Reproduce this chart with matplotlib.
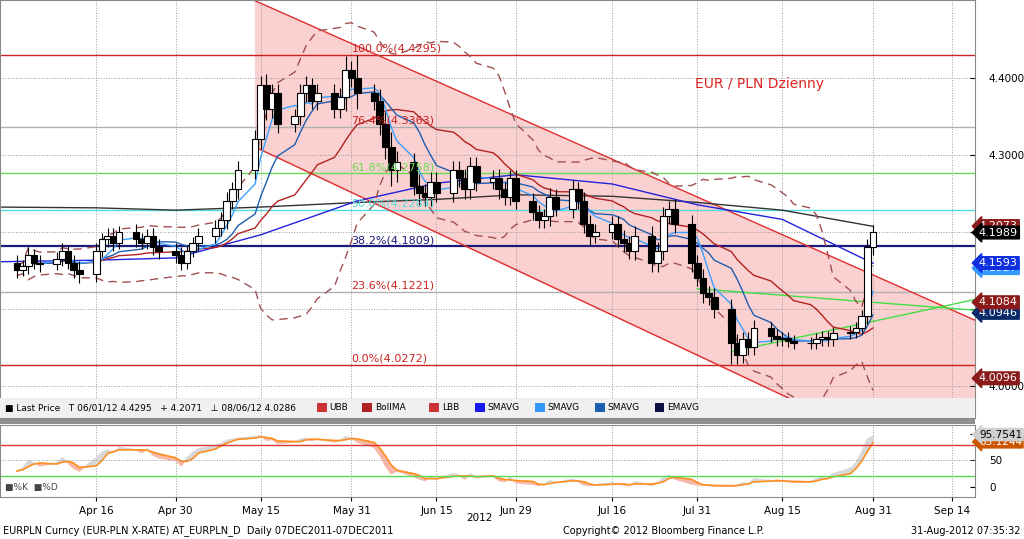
import numpy as np
import pandas as pd
import matplotlib
matplotlib.use("Agg")
import matplotlib.pyplot as plt
import matplotlib.dates as mdates
from matplotlib.patches import Rectangle
from matplotlib.transforms import blended_transform_factory

# ---------------------------------------------------------------------------
# Data
# ---------------------------------------------------------------------------
days = pd.bdate_range("2012-04-02", "2012-08-31")

close = [
    4.150, 4.155, 4.170, 4.160, 4.158,
    4.165, 4.175, 4.160, 4.150, 4.145,
    4.175, 4.190, 4.195, 4.185, 4.200,
    4.190, 4.185, 4.195, 4.180, 4.175,
    4.170, 4.160, 4.175, 4.185, 4.195,
    4.205, 4.215, 4.240, 4.255, 4.280,
    4.320, 4.390, 4.360, 4.380, 4.340,
    4.350, 4.380, 4.390, 4.370, 4.380,
    4.360, 4.375, 4.410, 4.400, 4.380,
    4.370, 4.340, 4.310, 4.280, 4.290,
    4.260, 4.250, 4.245, 4.265, 4.250,
    4.280, 4.270, 4.255, 4.285, 4.265,
    4.270, 4.255, 4.245, 4.270, 4.240,
    4.225, 4.215, 4.220, 4.245, 4.230,
    4.255, 4.240, 4.210, 4.195, 4.200,
    4.210, 4.190, 4.185, 4.175, 4.195,
    4.160, 4.175, 4.220, 4.230, 4.210,
    4.160, 4.140, 4.120, 4.115, 4.100,
    4.055, 4.040, 4.060, 4.050, 4.075,
    4.065, 4.060, 4.062, 4.058, 4.055,
    4.055, 4.060, 4.063, 4.060, 4.068,
    4.070, 4.075, 4.090, 4.180, 4.199,
]
first_open = 4.160
wick = [
    0.010, 0.008, 0.010, 0.008, 0.010,
    0.008, 0.010, 0.008, 0.010, 0.012,
    0.010, 0.008, 0.010, 0.010, 0.008,
    0.010, 0.008, 0.008, 0.010, 0.010,
    0.010, 0.010, 0.008, 0.008, 0.010,
    0.010, 0.010, 0.012, 0.010, 0.012,
    0.012, 0.012, 0.015, 0.012, 0.012,
    0.010, 0.012, 0.012, 0.010, 0.012,
    0.012, 0.012, 0.018, 0.012, 0.020,
    0.012, 0.015, 0.015, 0.020, 0.015,
    0.012, 0.015, 0.012, 0.012, 0.012,
    0.012, 0.012, 0.012, 0.012, 0.012,
    0.010, 0.012, 0.010, 0.010, 0.010,
    0.010, 0.010, 0.010, 0.012, 0.010,
    0.012, 0.010, 0.012, 0.012, 0.010,
    0.010, 0.010, 0.012, 0.010, 0.012,
    0.012, 0.012, 0.012, 0.010, 0.012,
    0.012, 0.010, 0.012, 0.010, 0.012,
    0.012, 0.012, 0.010, 0.010, 0.010,
    0.008, 0.008, 0.008, 0.008, 0.008,
    0.008, 0.008, 0.008, 0.008, 0.008,
    0.008, 0.008, 0.008, 0.010, 0.010,
]

stoch_k = [
    30, 35, 50, 45, 40,
    45, 55, 45, 35, 30,
    55, 65, 70, 65, 75,
    70, 65, 72, 60, 55,
    50, 40, 55, 65, 72,
    78, 82, 88, 90, 92,
    95, 97, 88, 90, 82,
    85, 90, 92, 88, 90,
    85, 88, 95, 92, 85,
    75, 60, 40, 25, 30,
    20, 15, 12, 20, 15,
    25, 22, 15, 25, 18,
    20, 12, 10, 18, 8,
    5, 3, 5, 12, 8,
    15, 10, 4, 3, 4,
    8, 5, 4, 3, 10,
    3, 8, 18, 22, 15,
    6, 4, 3, 3, 2,
    2, 3, 8, 6, 15,
    12, 10, 12, 10, 9,
    10, 15, 18, 15, 25,
    35, 45, 65, 90, 96,
]

# long averages
long_dates = pd.to_datetime([
    "2012-03-30", "2012-04-16", "2012-04-30", "2012-05-15", "2012-06-01",
    "2012-06-15", "2012-06-29", "2012-07-16", "2012-07-31", "2012-08-15",
    "2012-08-31"])
emavg = [4.232, 4.231, 4.228, 4.232, 4.238, 4.242, 4.248, 4.246, 4.238, 4.228, 4.207]
smavg50 = [4.161, 4.163, 4.166, 4.196, 4.240, 4.263, 4.274, 4.262, 4.235, 4.216, 4.159]

fib_levels = [4.4295, 4.3363, 4.2758, 4.2284, 4.1809, 4.1221, 4.0272]
fib_names = ["100.0%", "76.4%", "61.8%", "50.0%", "38.2%", "23.6%", "0.0%"]
fib_colors = ["#cc2222", "#b0b0b0", "#66dd55", "#55dddd", "#1a1a7a", "#b0b0b0", "#cc2222"]

channel_up = (["2012-05-14", "2012-09-18"], [4.500, 4.085])
channel_lo = (["2012-05-14", "2012-09-18"], [4.310, 3.870])
tri_up = (["2012-07-31", "2012-09-18"], [4.126, 4.098])
tri_lo = (["2012-08-06", "2012-09-18"], [4.044, 4.112])

price_tags = [(4.2073, "#8b1a1a"), (4.1989, "black"), (4.1527, "#3399ff"),
              (4.1593, "#1030e0"), (4.0946, "#0a2a6a"), (4.1084, "#8b1a1a"),
              (4.0096, "#8b1a1a")]

# ---------------------------------------------------------------------------
# Derived series
# ---------------------------------------------------------------------------
c = pd.Series(close, index=days)
o = c.shift(1)
o.iloc[0] = first_open
w = pd.Series(wick, index=days)
hi = np.maximum(o, c) + w
lo = np.minimum(o, c) - w
hi.loc["2012-06-01"] = 4.4295
lo.loc["2012-08-06"] = 4.0286

sma5 = c.rolling(5, min_periods=1).mean()
sma10 = c.rolling(10, min_periods=1).mean()
boll = c.rolling(20, min_periods=1).mean()
sd = c.rolling(20, min_periods=2).std().bfill()
ubb = boll + 2 * sd
lbb = boll - 2 * sd

k = pd.Series(stoch_k, index=days, dtype=float)
d = k.rolling(3, min_periods=1).mean()

# ---------------------------------------------------------------------------
# Figure
# ---------------------------------------------------------------------------
plt.rcParams["font.family"] = ["DejaVu Sans"]
fig = plt.figure(figsize=(10.24, 5.39), dpi=100, facecolor="white")
ax = fig.add_axes([0.0, 1 - 418 / 539, 975 / 1024, 418 / 539])
ax2 = fig.add_axes([0.0, 1 - 497 / 539, 975 / 1024, 72 / 539], sharex=ax)

xmin, xmax = pd.Timestamp("2012-03-30"), pd.Timestamp("2012-09-18")
ax.set_xlim(xmin, xmax)
ax.set_ylim(3.958, 4.501)

# channel shading
xs = pd.to_datetime(channel_up[0])
ax.fill_between(xs, channel_lo[1], channel_up[1], color="#fbd0d0", zorder=0)
ax.plot(xs, channel_up[1], color="#e03030", lw=1)
ax.plot(xs, channel_lo[1], color="#e03030", lw=1)
ax.plot(pd.to_datetime(tri_up[0]), tri_up[1], color="#44dd44", lw=1)
ax.plot(pd.to_datetime(tri_lo[0]), tri_lo[1], color="#44dd44", lw=1)

# fibonacci
for lvl, name, col in zip(fib_levels, fib_names, fib_colors):
    lw = 1.6 if name == "38.2%" else 1.0
    ax.axhline(lvl, color=col, lw=lw, zorder=1)
    ax.text(pd.Timestamp("2012-05-31"), lvl + 0.004, f"{name}({lvl:.4f})",
            color="#cc2222" if col in ("#cc2222", "#b0b0b0") else col,
            fontsize=8, zorder=5)

# grid
for lvl in [4.0, 4.1, 4.2, 4.3, 4.4]:
    ax.axhline(lvl, color="#999999", ls=":", lw=0.7, zorder=0.5)
month_ticks = pd.to_datetime(["2012-04-16", "2012-04-30", "2012-05-15", "2012-05-31",
                              "2012-06-15", "2012-06-29", "2012-07-16", "2012-07-31",
                              "2012-08-15", "2012-08-31", "2012-09-14"])
for t in month_ticks:
    ax.axvline(t, color="#999999", ls=":", lw=0.7, zorder=0.5)
    ax2.axvline(t, color="#999999", ls=":", lw=0.7, zorder=0.5)

# indicator lines
ax.plot(long_dates, emavg, color="#333333", lw=1)
ax.plot(long_dates, smavg50, color="#2222dd", lw=1)
ax.plot(days, boll, color="#b22222", lw=1)
ax.plot(days, ubb, color="#a05050", lw=1, ls=(0, (6, 4)))
ax.plot(days, lbb, color="#a05050", lw=1, ls=(0, (6, 4)))
ax.plot(days, sma10, color="#1e5eb0", lw=1)
ax.plot(days, sma5, color="#3aa0ff", lw=1)

# candles
for t, op, cl, h, l in zip(days, o, c, hi, lo):
    ax.vlines(t, l, h, color="black", lw=0.8, zorder=3)
    up = cl >= op
    ax.add_patch(Rectangle((mdates.date2num(t) - 0.6, min(op, cl)), 1.2,
                           max(abs(cl - op), 0.001),
                           facecolor="white" if up else "black",
                           edgecolor="black", lw=0.8, zorder=4))

ax.text(0.713, 0.79, "EUR / PLN Dzienny", transform=ax.transAxes,
        color="#dd2222", fontsize=10)

# legend strip
ax.add_patch(Rectangle((0, 0), 1, 20 / 418, transform=ax.transAxes,
                       facecolor="#f0f0f0", edgecolor="none", zorder=6))
ax.text(0.005, 10 / 418, "\u25a0 Last Price   T 06/01/12 4.4295   + 4.2071   "
        "\u22a5 08/06/12 4.0286", transform=ax.transAxes, fontsize=6.5,
        va="center", zorder=7)
leg_items = [("UBB", "#cc3333"), ("BollMA", "#b22222"), ("LBB", "#cc3333"),
             ("SMAVG", "#1a1aee"), ("SMAVG", "#3399ff"), ("SMAVG", "#1e5eb0"),
             ("EMAVG", "#101040")]
xpos = 0.325
for name, col in leg_items:
    ax.add_patch(Rectangle((xpos, 6 / 418), 0.010, 9 / 418, transform=ax.transAxes,
                           facecolor=col, zorder=7))
    ax.text(xpos + 0.013, 10 / 418, name, transform=ax.transAxes, fontsize=6.5,
            va="center", zorder=7)
    xpos += 0.012 + 0.0075 * len(name) + 0.012

# right axis
ax.yaxis.tick_right()
ax.set_yticks([4.0, 4.1, 4.2, 4.3, 4.4])
ax.set_yticklabels(["4.0000", "", "", "4.3000", "4.4000"], fontsize=7.5)
ax.tick_params(axis="y", direction="in", pad=10)
ax.tick_params(axis="x", bottom=False, labelbottom=False)
trans = blended_transform_factory(ax.transAxes, ax.transData)
for val, col in price_tags:
    ax.text(1.004, val, f"{val:.4f}", transform=trans, color="white",
            fontsize=8, va="center", ha="left", clip_on=False, zorder=10,
            bbox=dict(boxstyle="larrow,pad=0.12", facecolor=col, edgecolor=col))

# stochastic panel
ax2.set_ylim(-19, 117)
ax2.fill_between(days, k, d, where=(k >= d), color="#d8d8d8", interpolate=True)
ax2.fill_between(days, k, d, where=(k < d), color="#f8b8a8", interpolate=True)
ax2.plot(days, d, color="#ff9020", lw=1.2)
ax2.axhline(80, color="#dd3333", lw=1)
ax2.axhline(20, color="#55dd55", lw=1)
ax2.axhline(50, color="#999999", ls=":", lw=0.7)
ax2.yaxis.tick_right()
ax2.set_yticks([0, 50, 100])
ax2.set_yticklabels(["0", "50", ""], fontsize=7.5)
ax2.tick_params(axis="y", direction="in", pad=10)
trans2 = blended_transform_factory(ax2.transAxes, ax2.transData)
ax2.text(1.004, 85.1, "85.1244", transform=trans2, color="white", fontsize=7.5,
         va="center", clip_on=False, bbox=dict(boxstyle="larrow,pad=0.1",
                                               facecolor="#cc5500", edgecolor="#cc5500"))
ax2.text(1.004, 99, "95.7541", transform=trans2, color="black", fontsize=7.5,
         va="center", clip_on=False, bbox=dict(boxstyle="larrow,pad=0.1",
                                               facecolor="#d0d0d0", edgecolor="#d0d0d0"))
ax2.text(0.005, 0.1, "\u25a0%K  \u25a0%D", transform=ax2.transAxes,
         fontsize=6.5, color="#444444")
ax2.set_xticks(month_ticks)
ax2.set_xticklabels(["Apr 16", "Apr 30", "May 15", "May 31", "Jun 15", "Jun 29",
                     "Jul 16", "Jul 31", "Aug 15", "Aug 31", "Sep 14"], fontsize=7.5)
ax2.tick_params(axis="x", length=3)

for a in (ax, ax2):
    for s in a.spines.values():
        s.set_color("#888888")

fig.patches.append(Rectangle((0, 1 - 424 / 539), 975 / 1024, 5 / 539,
                             transform=fig.transFigure, facecolor="#909090"))
fig.text(0.468, 1 - 518 / 539, "2012", fontsize=7.5, ha="center", va="center")
fig.text(0.003, 1 - 531 / 539, "EURPLN Curncy (EUR-PLN X-RATE) AT_EURPLN_D  Daily 07DEC2011-07DEC2011",
         fontsize=7, va="center")
fig.text(0.55, 1 - 531 / 539, "Copyright\u00a9 2012 Bloomberg Finance L.P.",
         fontsize=7, va="center")
fig.text(0.997, 1 - 531 / 539, "31-Aug-2012 07:35:32", fontsize=7, va="center",
         ha="right")

fig.savefig("out.png", dpi=100)
